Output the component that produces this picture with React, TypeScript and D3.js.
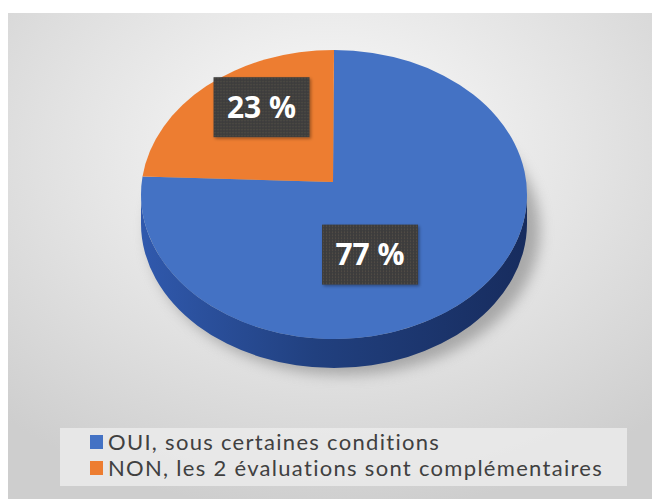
import React from 'react';
import { pie } from 'd3';

const categories = ['OUI, sous certaines conditions', 'NON, les 2 évaluations sont complémentaires'];
const values = [77, 23];
const colors = ['#4472c4', '#ed7d31'];
const labels = ['77 %', '23 %'];

const W = 652;
const H = 499;

// ellipse of the top face, vertex slightly above its centre (perspective)
const cx = 334;
const cy = 194.5;
const rx = 193;
const ry = 144.5;
const vx = 333;
const vy = 182;
const depth = 29;

// where the data labels sit, as a fraction of the radius (x, y)
const labelFrac = [
  [0.29, 0.67],
  [0.56, 0.69],
];

const pt = (a: number, x0 = cx, y0 = cy) => [x0 + rx * Math.sin(a), y0 - ry * Math.cos(a)];

const App = () => {
  const arcs = pie<number>().sort(null)(values);

  const slicePath = (s: number, e: number) => {
    const [x1, y1] = pt(s);
    const [x2, y2] = pt(e);
    const large = e - s > Math.PI ? 1 : 0;
    return `M${vx},${vy}L${x1},${y1}A${rx},${ry} 0 ${large} 1 ${x2},${y2}Z`;
  };

  const side =
    `M${cx + rx},${cy}A${rx},${ry} 0 0 1 ${cx - rx},${cy}` +
    `L${cx - rx},${cy + depth}A${rx},${ry} 0 0 0 ${cx + rx},${cy + depth}Z`;

  return (
    <div style={{ position: 'fixed', left: 0, top: 0 }}>
      <svg width={W} height={H} style={{ display: 'block' }}>
        <defs>
          <radialGradient id='bg' cx='50%' cy='28%' r='75%'>
            <stop offset='0%' stopColor='#fcfcfc' />
            <stop offset='55%' stopColor='#e3e3e3' />
            <stop offset='100%' stopColor='#cecece' />
          </radialGradient>
          <linearGradient id='side' x1='0' x2='1' y1='0' y2='0'>
            <stop offset='0%' stopColor='#3059ad' />
            <stop offset='45%' stopColor='#21407f' />
            <stop offset='100%' stopColor='#172c5e' />
          </linearGradient>
          <filter id='blur' x='-20%' y='-20%' width='140%' height='140%'>
            <feGaussianBlur stdDeviation='7' />
          </filter>
          <filter id='boxShadow' x='-20%' y='-20%' width='140%' height='140%'>
            <feDropShadow dx='1.5' dy='1.5' stdDeviation='1.5' floodColor='#000' floodOpacity='0.35' />
          </filter>
          <pattern id='dots' width='3' height='3' patternUnits='userSpaceOnUse'>
            <rect width='3' height='3' fill='#3d3d3d' />
            <circle cx='1.5' cy='1.5' r='0.7' fill='#585248' />
          </pattern>
        </defs>

        <rect x={0} y={0} width={W} height={H} fill='#ffffff' />
        <rect x={8} y={13} width={W - 8} height={H - 13} fill='url(#bg)' />

        {/* soft shadow under the pie */}
        <ellipse
          cx={cx + 10}
          cy={cy + depth + 7}
          rx={rx + 3}
          ry={ry}
          fill='#808080'
          opacity={0.6}
          filter='url(#blur)'
        />

        <path d={side} fill='url(#side)' />

        {arcs.map((a, i) => (
          <path key={i} d={slicePath(a.startAngle, a.endAngle)} fill={colors[i]} />
        ))}

        {arcs.map((a, i) => {
          const mid = (a.startAngle + a.endAngle) / 2;
          const x = vx + labelFrac[i][0] * rx * Math.sin(mid);
          const y = vy - labelFrac[i][1] * ry * Math.cos(mid);
          const fs = 30;
          const bw = 96;
          const bh = 60;
          return (
            <g key={i} transform={`translate(${x},${y})`}>
              <rect
                x={-bw / 2}
                y={-bh / 2}
                width={bw}
                height={bh}
                fill='url(#dots)'
                filter='url(#boxShadow)'
              />
              <text
                textAnchor='middle'
                dy='0.36em'
                fill='#ffffff'
                fontFamily='Open Sans, sans-serif'
                fontWeight={700}
                fontSize={fs}
              >
                {labels[i]}
              </text>
            </g>
          );
        })}

        {/* legend */}
        <g>
          <rect x={60} y={428} width={567} height={58} fill='#ebebeb' opacity={0.85} />
          {categories.map((c, i) => (
            <g key={c} transform={`translate(90,${435 + i * 26})`}>
              <rect width={13} height={14} fill={colors[i]} />
              <text
                x={18}
                y={14.5}
                fill='#404040'
                fontFamily='Lato, sans-serif'
                fontSize={22}
                letterSpacing={1.3}
              >
                {c}
              </text>
            </g>
          ))}
        </g>
      </svg>
    </div>
  );
};

export default App;
